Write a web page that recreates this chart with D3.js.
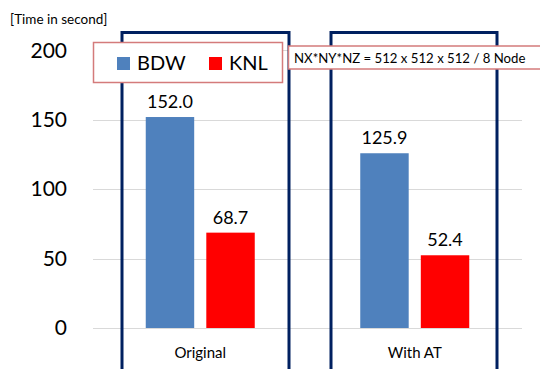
<!DOCTYPE html>
<html>
<head>
<meta charset="utf-8">
<script src="https://cdn.jsdelivr.net/npm/d3@7"></script>
<style>
  html, body { margin: 0; padding: 0; background: #fff; }
  svg { display: block; font-family: Lato, "Open Sans", sans-serif; }
</style>
</head>
<body>
<svg id="chart" width="540" height="369"></svg>
<script>
// Execution time per version and processor
const categories = ["Original", "With AT"];
const series = ["BDW", "KNL"];
const bdwValues = [152.0, 125.9];
const knlValues = [68.7, 52.4];
const yTicks = [0, 50, 100, 150, 200];
const seriesColors = ["#4f81bd", "#ff0000"];
const unitLabel = "[Time in second]";
const noteText = "NX*NY*NZ = 512 x 512 x 512 / 8 Node";

const rows = categories.map((c, i) => ({ category: c, values: [bdwValues[i], knlValues[i]] }));

const svg = d3.select("#chart");
const W = 540, H = 369;

const x0 = d3.scaleBand().domain(categories).range([93, 522]);
const groupWidth = 109;
const x1 = d3.scaleBand().domain(series).range([0, groupWidth]).paddingInner(0.2);
const y = d3.scaleLinear().domain([0, 200]).range([328, 50.4]);

// gridlines
svg.append("g").selectAll("line").data(yTicks).join("line")
  .attr("x1", 93).attr("x2", 522)
  .attr("y1", d => Math.round(y(d)) + 0.5).attr("y2", d => Math.round(y(d)) + 0.5)
  .attr("stroke", "#d9d9d9").attr("stroke-width", 1);

// y axis labels
const yAxis = d3.axisLeft(y).tickValues(yTicks).tickSize(0).tickPadding(0);
const yg = svg.append("g").attr("transform", "translate(67,0)").call(yAxis);
yg.select(".domain").remove();
yg.selectAll("text").attr("font-size", 21).attr("fill", "#000")
  .attr("font-family", "Lato, 'Open Sans', sans-serif");

svg.append("text").attr("x", 10).attr("y", 24)
  .attr("font-size", 13.5).attr("fill", "#000").text(unitLabel);

// bars
const groups = svg.append("g").selectAll("g").data(rows).join("g")
  .attr("transform", d => `translate(${x0(d.category) + x0.bandwidth() / 2 - groupWidth / 2},0)`);

groups.selectAll("rect").data(d => d.values.map((v, j) => ({ s: series[j], v, j }))).join("rect")
  .attr("x", d => x1(d.s))
  .attr("width", x1.bandwidth())
  .attr("y", d => y(d.v))
  .attr("height", d => y(0) - y(d.v))
  .attr("fill", d => seriesColors[d.j]);

groups.selectAll("text.val").data(d => d.values.map((v, j) => ({ s: series[j], v, j }))).join("text")
  .attr("class", "val")
  .attr("x", d => x1(d.s) + x1.bandwidth() / 2)
  .attr("y", d => y(d.v) - 9)
  .attr("text-anchor", "middle")
  .attr("font-size", 18).attr("fill", "#000")
  .text(d => d3.format(".1f")(d.v));

// category labels
svg.append("g").selectAll("text").data(categories).join("text")
  .attr("x", d => x0(d) + x0.bandwidth() / 2)
  .attr("y", 358)
  .attr("text-anchor", "middle")
  .attr("font-size", 15).attr("fill", "#000")
  .text(d => d);

// highlight frames around each category
const frames = [[122, 289], [331, 497]];
svg.append("g").selectAll("path").data(frames).join("path")
  .attr("d", d => `M${d[0]},${H + 5}V32.5H${d[1]}V${H + 5}`)
  .attr("fill", "none").attr("stroke", "#002060").attr("stroke-width", 3);

// legend
const lg = svg.append("g");
lg.append("rect").attr("x", 93.5).attr("y", 42.5).attr("width", 189).attr("height", 40)
  .attr("fill", "#fff").attr("stroke", "#d47b7b").attr("stroke-width", 1.5);
const legendX = [117, 209];
series.forEach((s, i) => {
  lg.append("rect").attr("x", legendX[i]).attr("y", 57).attr("width", 13).attr("height", 13)
    .attr("fill", seriesColors[i]);
  lg.append("text").attr("x", legendX[i] + 20).attr("y", 70)
    .attr("font-size", 20).attr("fill", "#000").text(s);
});

// problem size note
const ng = svg.append("g");
ng.append("rect").attr("x", 288.5).attr("y", 46).attr("width", 260).attr("height", 23)
  .attr("fill", "#fff").attr("stroke", "#d47b7b").attr("stroke-width", 1.5);
ng.append("text").attr("x", 294).attr("y", 63)
  .attr("font-size", 13.2).attr("fill", "#000").text(noteText);
</script>
</body>
</html>
